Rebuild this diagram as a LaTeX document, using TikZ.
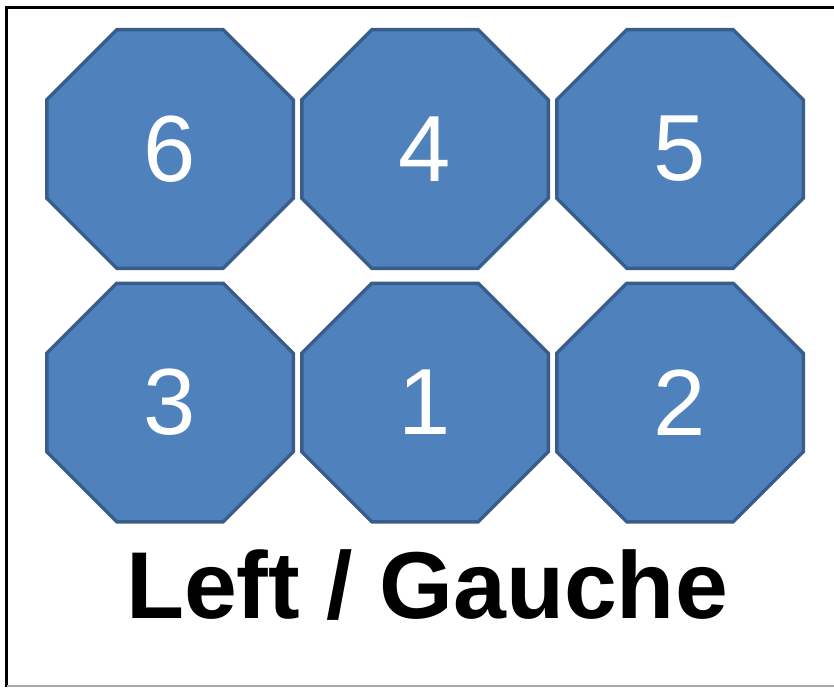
\documentclass[tikz,border=0pt]{standalone}
\usepackage{fontspec}
\setmainfont{Liberation Sans}
\usepackage{tikz}
\usetikzlibrary{positioning, calc}
\definecolor{octfill}{RGB}{79, 129, 189}
\definecolor{octline}{RGB}{56, 93, 138}
\definecolor{framegray}{RGB}{170, 170, 170}

\begin{document}
\begin{tikzpicture}[x=1pt, y=-1pt,
    octo/.style={fill=octfill, draw=octline, line width=3.5pt, line join=miter},
    digit/.style={text=white, inner sep=0pt, font=\fontsize{94}{94}\selectfont},
    caption/.style={anchor=base, inner sep=0pt, font=\fontsize{95}{95}\selectfont\bfseries}]
    \useasboundingbox (0,0) rectangle (834,687);

    % Frame (cut off on the right)
    \draw[black, line width=3pt] (834,8) -- (6.5,8) -- (6.5,687);
    \draw[framegray, line width=2pt] (6.5,686) -- (834,686);

    % Octagons, two rows of three
    \foreach \cx/\cy/\nm/\lab in {170/149/six/6, 425/149/four/4, 680/149/five/5,
                                  170/402.5/three/3, 425/402.5/one/1, 680/402.5/two/2} {
        \draw[octo, shift={(\cx,\cy)}] (-53.25,-119.25) -- (53.25,-119.25) -- (123.25,-49.25)
            -- (123.25,49.25) -- (53.25,119.25) -- (-53.25,119.25) -- (-123.25,49.25)
            -- (-123.25,-49.25) -- cycle;
        \node[digit] (\nm) at (\cx,\cy) {\lab};
    }

    % Label
    \node[caption] (side) at (427,618) {Left / Gauche};
\end{tikzpicture}
\end{document}
